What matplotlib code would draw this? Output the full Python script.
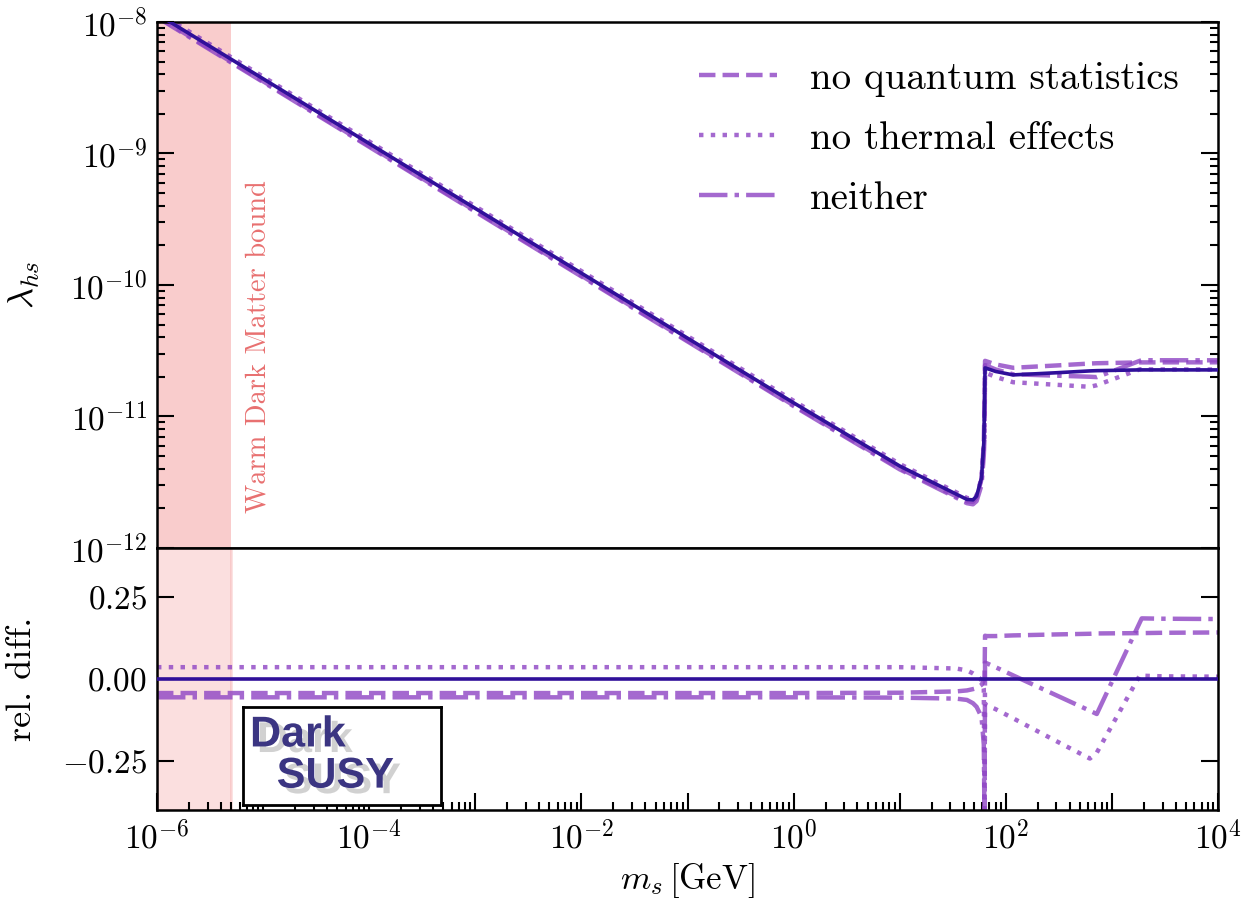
import numpy as np
import matplotlib
matplotlib.use('Agg')
import matplotlib.pyplot as plt
import matplotlib.patheffects as pe
from matplotlib.ticker import LogLocator, FuncFormatter, NullFormatter
from matplotlib.transforms import blended_transform_factory

plt.rcParams['font.family'] = 'serif'
plt.rcParams['font.serif'] = ['cmr10', 'DejaVu Serif']
plt.rcParams['mathtext.fontset'] = 'cm'
plt.rcParams['axes.formatter.use_mathtext'] = True
plt.rcParams['axes.unicode_minus'] = True

# ---- data ----
m_s = [1e-6, 1e-5, 1e-4, 1e-3, 1e-2, 1e-1, 1, 10, 34, 43, 49, 53, 59, 62, 63,
       63.7, 66, 80, 117, 300, 620, 720, 1840, 1910, 3000, 1e4]

lam_full = [1.15e-8, 3.70e-9, 1.19e-9, 3.82e-10, 1.23e-10, 3.94e-11, 1.27e-11,
            4.2e-12, 2.57e-12, 2.34e-12, 2.32e-12, 2.48e-12, 3.4e-12, 6.3e-12,
            1.26e-11, 2.34e-11, 2.32e-11, 2.2e-11, 2.07e-11, 2.15e-11, 2.22e-11,
            2.23e-11, 2.26e-11, 2.26e-11, 2.26e-11, 2.26e-11]

# relative differences of the variants w.r.t. the full result
rel_noqs = [-0.043, -0.043, -0.043, -0.043, -0.043, -0.043, -0.043, -0.042,
            -0.038, -0.035, -0.031, -0.028, -0.018, -0.005, 0.0, 0.132, 0.131,
            0.131, 0.133, 0.136, 0.138, 0.139, 0.140, 0.140, 0.141, 0.142]
rel_nothermal = [0.036, 0.036, 0.036, 0.036, 0.036, 0.036, 0.036, 0.036, 0.032,
                 0.026, 0.017, 0.010, -0.003, -0.03, -0.45, -0.075, -0.08,
                 -0.092, -0.12, -0.19, -0.243, -0.225, 0.012, 0.010, 0.008, 0.007]
rel_neither = [-0.056, -0.056, -0.056, -0.056, -0.056, -0.056, -0.056, -0.057,
               -0.06, -0.064, -0.074, -0.085, -0.116, -0.2, -0.45, 0.05, 0.048,
               0.036, 0.011, -0.05, -0.097, -0.107, 0.174, 0.185, 0.184, 0.183]

labels = ['no quantum statistics', 'no thermal effects', 'neither']
styles = ['--', ':', '-.']
wdm_bound = 5e-6

c_main = '#30109a'
c_var = '#8e44c4'

m = np.array(m_s)
lam = np.array(lam_full)
rels = [np.array(rel_noqs), np.array(rel_nothermal), np.array(rel_neither)]

fig = plt.figure(figsize=(12.42, 9.11), dpi=100)
ax1 = fig.add_axes([0.1264, 0.3985, 0.8543, 0.5774])
ax2 = fig.add_axes([0.1264, 0.1109, 0.8543, 0.2876], sharex=ax1)

# ---- top panel ----
ax1.axvspan(1e-6, wdm_bound, color='#f08080', alpha=0.4, lw=0, zorder=0)
for r, ls, lab in zip(rels, styles, labels):
    ax1.plot(m, lam * (1 + r), ls=ls, color=c_var, alpha=0.8, lw=3.2, label=lab, zorder=2)
ax1.plot(m, lam, '-', color=c_main, lw=2.6, zorder=3)

ax1.set_xscale('log')
ax1.set_yscale('log')
ax1.set_xlim(1e-6, 1e4)
ax1.set_ylim(1e-12, 1e-8)
ax1.set_ylabel(r'$\lambda_{hs}$', fontsize=26)
ax1.yaxis.set_label_coords(-0.108, 0.5)

trans = blended_transform_factory(ax1.transData, ax1.transAxes)
ax1.text(9e-6, 0.382, 'Warm Dark Matter bound', transform=trans, rotation=90,
         ha='center', va='center', fontsize=20.5, color='#e87070')

ax1.legend(loc='upper right', frameon=False, fontsize=28, handlelength=2.0,
           handletextpad=0.85, labelspacing=0.62, borderaxespad=0.6,
           bbox_to_anchor=(1.0, 1.0))

# ---- bottom panel ----
ax2.axvspan(1e-6, wdm_bound, facecolor='#f08080', alpha=0.25, edgecolor='#f08080', lw=2, zorder=0)
for r, ls in zip(rels, styles):
    ax2.plot(m, r, ls=ls, color=c_var, alpha=0.8, lw=3.2, zorder=2)
ax2.plot(m, np.zeros_like(m), '-', color=c_main, lw=2.6, zorder=3)
ax2.set_ylim(-0.4, 0.4)
ax2.set_yticks([-0.25, 0.0, 0.25])
ax2.set_yticklabels([r'$-0.25$', r'$0.00$', r'$0.25$'])
ax2.set_ylabel('rel. diff.', fontsize=26)
ax2.yaxis.set_label_coords(-0.112, 0.5)
ax2.set_xlabel(r'$m_s\,[\mathrm{GeV}]$', fontsize=25)

# ---- ticks ----
fmt = FuncFormatter(lambda v, p: r'$10^{%d}$' % int(round(np.log10(v))))
ax1.yaxis.set_major_locator(LogLocator(base=10, numticks=20))
ax1.yaxis.set_minor_locator(LogLocator(base=10, subs=np.arange(2, 10), numticks=20))
ax1.yaxis.set_major_formatter(fmt)
ax1.yaxis.set_minor_formatter(NullFormatter())
ax2.xaxis.set_major_locator(LogLocator(base=10, subs=[1.0], numticks=20))
ax2.xaxis.set_minor_locator(LogLocator(base=10, subs=np.arange(2, 10), numticks=40))
ax2.xaxis.set_major_formatter(FuncFormatter(
    lambda v, p: r'$10^{%d}$' % int(round(np.log10(v))) if round(np.log10(v)) % 2 == 0 else ''))
ax2.xaxis.set_minor_formatter(NullFormatter())

for ax in (ax1, ax2):
    ax.tick_params(which='both', direction='in', right=True, top=False, labelsize=24, width=1.5)
    ax.tick_params(which='major', length=12, pad=7)
    ax.tick_params(which='minor', length=6)
    for sp in ax.spines.values():
        sp.set_linewidth(1.8)
ax1.tick_params(axis='x', which='both', bottom=False, labelbottom=False)

# ---- DarkSUSY logo box ----
lg = fig.add_axes([0.1957, 0.1163, 0.1594, 0.1076])
lg.set_xlim(0, 1)
lg.set_ylim(0, 1)
lg.set_xticks([])
lg.set_yticks([])
for sp in lg.spines.values():
    sp.set_linewidth(2)
shadow = [pe.withSimplePatchShadow(offset=(5, -4), shadow_rgbFace='#9a9a9a', alpha=0.45)]
lg.text(0.035, 0.71, 'Dark', fontsize=31, fontweight='bold', family='Liberation Sans',
        color='#3b3582', ha='left', va='center', path_effects=shadow)
lg.text(0.17, 0.29, 'SUSY', fontsize=31, fontweight='bold', family='Liberation Sans',
        color='#3b3582', ha='left', va='center', path_effects=shadow)

fig.savefig('out.png', dpi=100)
